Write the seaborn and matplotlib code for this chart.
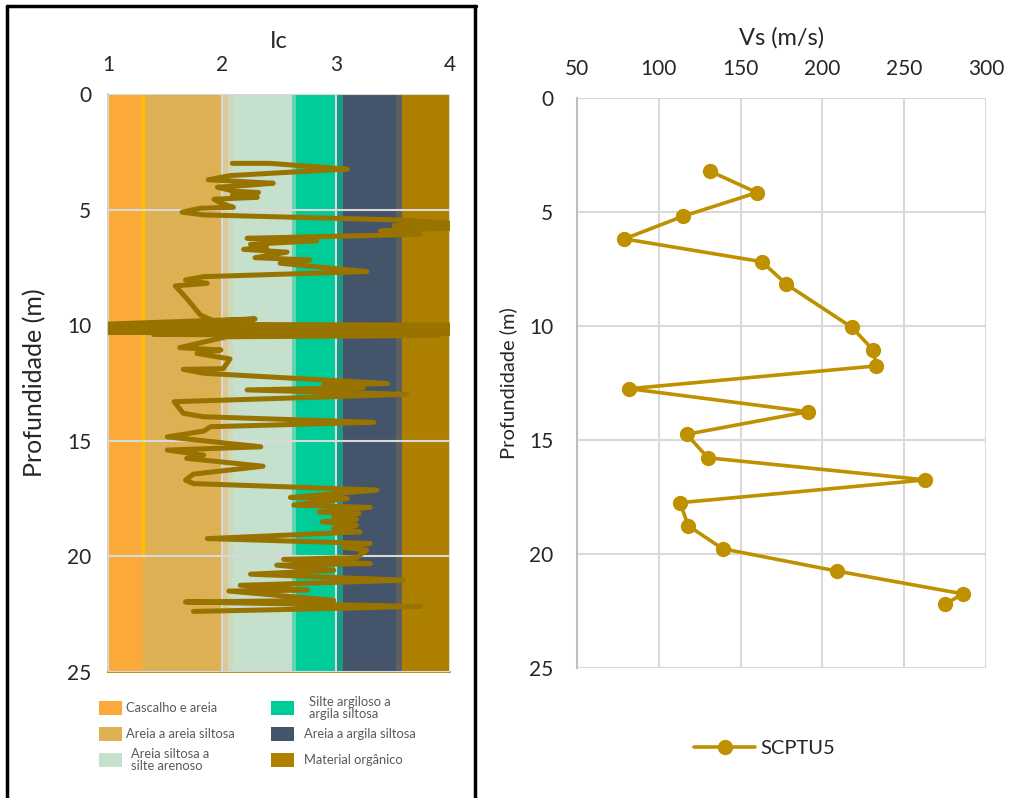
import numpy as np
import pandas as pd
import seaborn as sns
import matplotlib.pyplot as plt
from matplotlib.patches import Rectangle
from matplotlib.lines import Line2D

# Ic profile (left panel)
ic_vals = [2.09, 2.42, 3.10, 2.89, 2.07, 1.88, 2.45, 2.22, 1.96, 2.10, 2.32, 2.09, 2.31, 1.93,
           1.99, 2.10, 1.81, 1.65, 1.84, 3.56, 4.00, 3.51, 4.00, 3.39, 3.74, 2.22, 2.83, 2.25,
           2.39, 2.19, 2.57, 2.29, 2.77, 2.51, 3.27, 1.84, 1.68, 1.87, 1.59, 1.69, 1.81, 1.93,
           2.29, 1.00, 4.00, 1.00, 4.00, 1.00, 4.00, 1.00, 4.00, 1.40, 3.90, 2.04, 1.63, 1.99,
           1.78, 2.07, 2.01, 1.66, 1.84, 3.45, 2.89, 3.24, 2.22, 3.62, 1.58, 1.66, 1.84, 3.33,
           1.90, 1.84, 1.52, 2.34, 1.52, 1.84, 1.69, 2.36, 1.75, 1.68, 1.75, 3.36, 2.60, 3.10,
           2.63, 3.30, 2.85, 3.20, 2.98, 3.18, 2.88, 3.18, 2.98, 3.21, 1.87, 3.30, 3.07, 3.27,
           3.18, 2.54, 3.30, 2.48, 2.98, 2.25, 3.59, 2.16, 2.75, 2.06, 2.98, 1.68, 3.74, 2.72,
           1.75]
ic_depth = [3.00, 3.00, 3.25, 3.30, 3.53, 3.71, 3.86, 3.95, 4.03, 4.20, 4.26, 4.37, 4.47, 4.55,
            4.72, 4.90, 4.94, 5.11, 5.23, 5.45, 5.59, 5.69, 5.80, 5.92, 6.07, 6.24, 6.35, 6.50,
            6.62, 6.72, 6.84, 7.08, 7.18, 7.32, 7.68, 7.90, 8.04, 8.19, 8.30, 8.84, 9.56, 9.82,
            9.73, 9.95, 10.00, 10.06, 10.12, 10.18, 10.24, 10.30, 10.34, 10.40, 10.45, 10.50, 10.97, 11.07,
            11.22, 11.46, 11.88, 11.91, 12.08, 12.52, 12.59, 12.70, 12.80, 12.99, 13.31, 13.81, 13.96, 14.20,
            14.39, 14.58, 14.83, 15.26, 15.40, 15.62, 15.76, 16.10, 16.44, 16.70, 16.85, 17.13, 17.45, 17.50,
            17.78, 17.88, 18.08, 18.15, 18.26, 18.40, 18.50, 18.65, 18.79, 18.94, 19.23, 19.44, 19.61, 19.73,
            20.05, 20.13, 20.31, 20.38, 20.60, 20.77, 21.03, 21.25, 21.46, 21.50, 21.90, 21.97, 22.16, 22.28,
            22.38]

# SBT zones (background bands), Ic limits
zone_labels = ["Cascalho e areia", "Areia a areia siltosa", "Areia siltosa a\nsilte arenoso",
               "Silte argiloso a\nargila siltosa", "Areia a argila siltosa", "Material orgânico"]
zone_colors = ["#FBAA3A", "#DCB053", "#C5E0CC", "#00CC99", "#44546A", "#AE8000"]
zone_lo = [1.00, 1.31, 2.10, 2.63, 3.05, 3.57]
zone_hi = [1.31, 2.10, 2.63, 3.05, 3.57, 4.00]

# Vs profile (right panel)
vs_vals = [131, 160, 115, 79, 163, 178, 218, 231, 233, 82, 191, 117, 130, 263, 113, 118, 139, 209, 286, 275]
vs_depth = [3.20, 4.15, 5.18, 6.18, 7.18, 8.17, 10.06, 11.05, 11.75, 12.75, 13.76, 14.75, 15.78,
            16.75, 17.75, 18.76, 19.77, 20.75, 21.75, 22.19]

sns.set_theme(style="white")
plt.rcParams['font.family'] = ['Lato', 'DejaVu Sans']

W, H = 1009, 798
fig = plt.figure(figsize=(W / 100, H / 100), dpi=100)

def frac(x0, y0, x1, y1):
    return [x0 / W, 1 - y1 / H, (x1 - x0) / W, (y1 - y0) / H]

# ---------- left panel: Ic ----------
ax1 = fig.add_axes(frac(108, 94, 450, 672))
for lo, hi, c in zip(zone_lo, zone_hi, zone_colors):
    ax1.axvspan(lo, hi, color=c, zorder=0, lw=0)
# soft transitions / thin stripes seen in the chart
ax1.axvspan(2.00, 2.05, color="#D8C89A", zorder=0, lw=0)
ax1.axvspan(2.05, 2.10, color="#CFD8B8", zorder=0, lw=0)
ax1.axvspan(2.61, 2.65, color="#5FD6B0", zorder=0, lw=0)
ax1.axvspan(3.01, 3.06, color="#1A9A85", zorder=0, lw=0)
ax1.axvspan(3.53, 3.58, color="#5E6060", zorder=0, lw=0)
ax1.plot([1.31, 1.31], [0, 20], color="#FFC000", lw=2.5, zorder=0.5)

df_ic = pd.DataFrame({"Ic": ic_vals, "depth": ic_depth})
sns.lineplot(data=df_ic, x="Ic", y="depth", sort=False, estimator=None, ax=ax1,
             color="#997300", lw=3.6, zorder=3, solid_capstyle="round", solid_joinstyle="round")

ax1.set_xlim(1, 4)
ax1.set_ylim(25, 0)
ax1.set_xticks([1, 2, 3, 4])
ax1.set_yticks([0, 5, 10, 15, 20, 25])
ax1.xaxis.tick_top()
ax1.xaxis.set_label_position("top")
ax1.set_axisbelow(False)
ax1.grid(True, color="#D9D9D9", lw=1.5, zorder=2)
ax1.tick_params(axis="x", pad=14, labelsize=15, length=0)
ax1.tick_params(axis="y", pad=12, labelsize=15, length=0)
ax1.set_xlabel("Ic", fontsize=17)
ax1.set_ylabel("Profundidade (m)", fontsize=18)
ax1.xaxis.set_label_coords(0.5, (672 - 48) / 578)
ax1.yaxis.set_label_coords((46 - 108) / 342, 0.5)
for s in ax1.spines.values():
    s.set_visible(False)
ax1.spines["left"].set_visible(True)
ax1.spines["left"].set_color("#C8C8C8")
ax1.spines["bottom"].set_visible(True)
ax1.spines["bottom"].set_color("#AE8000")

# legend of soil types (laid out in two columns)
for i, (lab, c) in enumerate(zip(zone_labels, zone_colors)):
    col, row = divmod(i, 3)
    px = 99 + col * 172
    py = 708 + row * 26
    fig.add_artist(Rectangle((px / W, 1 - (py + 7) / H), 23 / W, 14 / H,
                             transform=fig.transFigure, color=c, lw=0))
    tx = px + 27 + (5 if "\n" in lab else 0) + (6 if col == 1 else 0)
    fig.text(tx / W, 1 - py / H, lab,
             fontsize=9.3, color="#595959", va="center", ha="left", linespacing=1.05)

# ---------- right panel: Vs ----------
ax2 = fig.add_axes(frac(577, 98, 986, 668))
df_vs = pd.DataFrame({"Vs": vs_vals, "depth": vs_depth})
sns.lineplot(data=df_vs, x="Vs", y="depth", sort=False, estimator=None, ax=ax2,
             color="#BF9000", lw=2.6, marker="o", markersize=11, markeredgewidth=0,
             label="SCPTU5", zorder=3)
ax2.set_xlim(50, 300)
ax2.set_ylim(25, 0)
ax2.set_xticks([50, 100, 150, 200, 250, 300])
ax2.set_yticks([0, 5, 10, 15, 20, 25])
ax2.xaxis.tick_top()
ax2.xaxis.set_label_position("top")
ax2.grid(True, color="#D9D9D9", lw=1.5)
ax2.tick_params(axis="x", pad=14, labelsize=15, length=0)
ax2.tick_params(axis="y", pad=17, labelsize=15, length=0)
ax2.set_xlabel("Vs (m/s)", fontsize=17)
ax2.set_ylabel("Profundidade (m)", fontsize=14.5)
ax2.xaxis.set_label_coords(0.5, (668 - 45) / 570)
ax2.yaxis.set_label_coords((517 - 577) / 409, 0.5)
for s in ax2.spines.values():
    s.set_visible(False)
ax2.spines["left"].set_visible(True)
ax2.spines["left"].set_color("#BFBFBF")
ax2.spines["left"].set_linewidth(1.5)
ax2.legend(loc="center", bbox_to_anchor=(765 / W, 1 - 748 / H), bbox_transform=fig.transFigure,
           frameon=False, fontsize=14.5, handlelength=3.0, handletextpad=0.3)

# frame lines of the composite picture
lk = dict(transform=fig.transFigure, color="black", lw=2.5)
fig.add_artist(Line2D([7 / W, 7 / W], [0, 1 - 6 / H], **lk))
fig.add_artist(Line2D([7 / W, 476 / W], [1 - 6 / H, 1 - 6 / H], **lk))
fig.add_artist(Line2D([475 / W, 475 / W], [0, 1 - 6 / H], **lk))

fig.savefig("out.png", dpi=100)
